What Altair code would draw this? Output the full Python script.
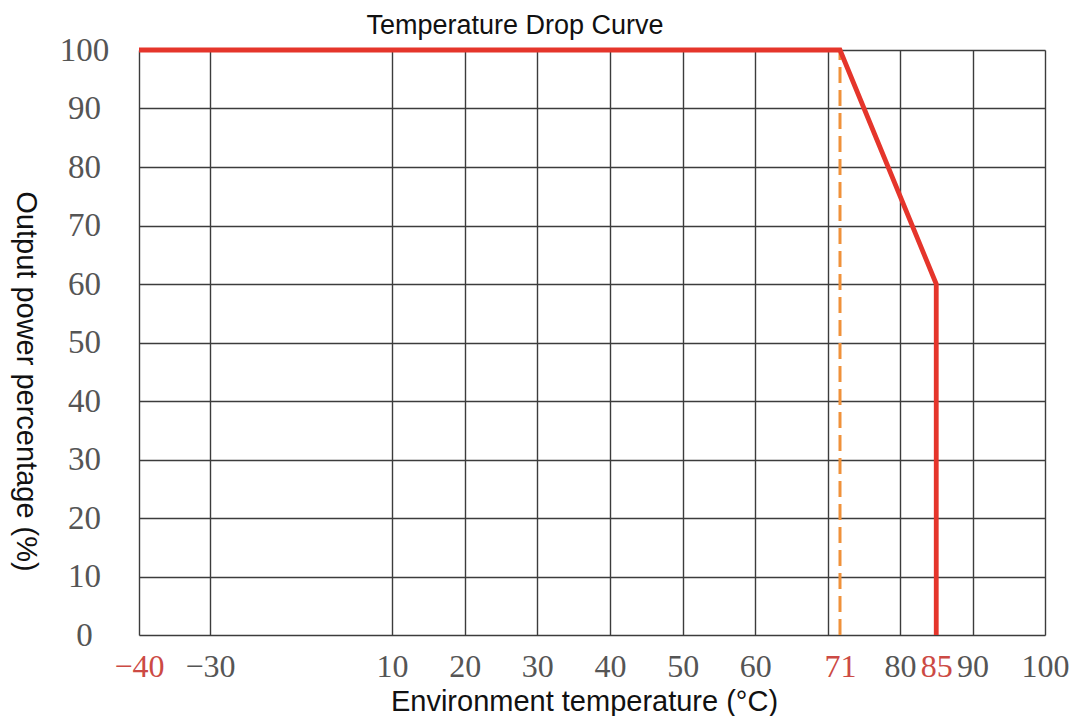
import altair as alt
import pandas as pd

# Curve data
temps = [-40, 71, 85, 85]
power = [100, 100, 60, 0]
seq = [0, 1, 2, 3]

# Dashed marker at 71 °C
marker_x = [71]
marker_y0 = [0]
marker_y1 = [100]

# Axis values
x_axis_values = [-40, -30, 10, 20, 30, 40, 50, 60, 70, 71, 80, 85, 90, 100]
y_axis_values = [0, 10, 20, 30, 40, 50, 60, 70, 80, 90, 100]

# non-uniform axis (as drawn in the reference)
x_domain = [-40, -30, 10, 70, 71, 80, 100]
x_range = [0, 71, 253, 689, 701, 761, 906]

W, H = 906, 585

curve = pd.DataFrame({"t": temps, "p": power, "seq": seq})
marker = pd.DataFrame({"t": marker_x, "y0": marker_y0, "y1": marker_y1})

xscale = alt.Scale(domain=x_domain, range=x_range, nice=False, zero=False)
yscale = alt.Scale(domain=[0, 100], nice=False, zero=False)

grid_col = "#3c3c3c"
label_col = "#555555"
red_lab = "#cc4a44"

x_axis = alt.Axis(
    values=x_axis_values,
    title="Environment temperature (°C)",
    grid=True,
    gridColor={"condition": {"test": "datum.value == 71 || datum.value == 85", "value": "transparent"},
               "value": grid_col},
    gridWidth=1.4,
    ticks=False,
    tickSize=0,
    domain=False,
    labelExpr="datum.value == 70 ? '' : datum.label",
    labelColor={"condition": {"test": "datum.value == -40 || datum.value == 71 || datum.value == 85",
                              "value": red_lab},
                "value": label_col},
    labelFont="Liberation Serif",
    labelFontSize=32,
    labelPadding=16,
    labelAngle=0,
    labelOverlap=False,
    labelFlush=False,
    titleFont="Liberation Sans",
    titleFontSize=29,
    titleFontWeight="normal",
    titleColor="#111111",
    titleX=445,
    titleY=66,
    titleBaseline="middle",
    titleAlign="center",
)

y_axis = alt.Axis(
    values=y_axis_values,
    title="Output power percentage (%)",
    grid=True,
    gridColor=grid_col,
    gridWidth=1.4,
    ticks=False,
    tickSize=0,
    domain=False,
    labelFont="Liberation Serif",
    labelFontSize=33,
    labelColor=label_col,
    labelAlign="center",
    labelBaseline="middle",
    labelPadding=55,
    labelFlush=False,
    labelOverlap=False,
    titleFont="Liberation Sans",
    titleFontSize=29,
    titleFontWeight="normal",
    titleColor="#111111",
    titleAngle=90,
    titleX=-114,
    titleY=331,
    titleAlign="center",
    titleBaseline="middle",
)

dashed = alt.Chart(marker).mark_rule(
    color="#f0913a", strokeWidth=3, strokeDash=[16, 7]
).encode(
    x=alt.X("t:Q", scale=xscale, axis=x_axis),
    y=alt.Y("y0:Q", scale=yscale, axis=y_axis),
    y2="y1:Q",
)

line = alt.Chart(curve).mark_line(
    color="#e5352b", strokeWidth=4.8, strokeJoin="miter"
).encode(
    x=alt.X("t:Q", scale=xscale),
    y=alt.Y("p:Q", scale=yscale),
    order="seq:Q",
)

chart = alt.layer(dashed, line).properties(
    width=W,
    height=H,
    padding={"left": 131, "top": 42, "right": 24, "bottom": 81},
    autosize=alt.AutoSizeParams(type="none"),
    title=alt.TitleParams(
        text="Temperature Drop Curve",
        font="Liberation Sans",
        fontSize=27,
        fontWeight="normal",
        color="#111111",
        anchor="middle",
        frame="group",
        dx=-77,
        dy=28,
        offset=1,
        baseline="alphabetic",
    ),
).configure_view(stroke=None).configure(background="white")

chart.save("out.html", embed_options={"renderer": "svg", "actions": False})
